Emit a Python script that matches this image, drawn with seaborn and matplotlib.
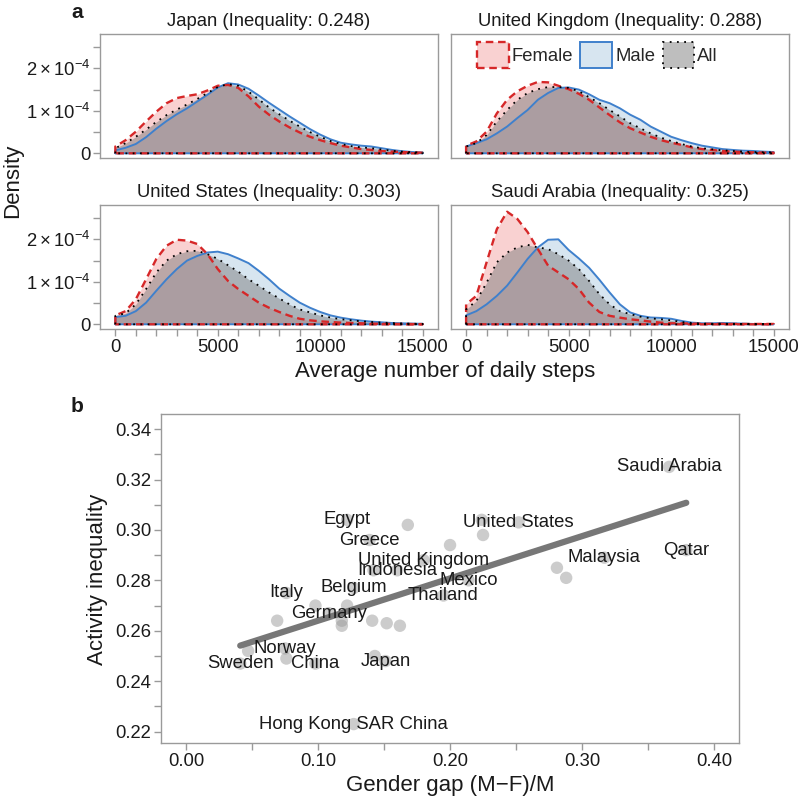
import numpy as np
import matplotlib
matplotlib.use("Agg")
import matplotlib.pyplot as plt
from matplotlib.patches import Patch
from matplotlib.colors import to_rgba
from matplotlib.ticker import FixedLocator, MultipleLocator, FormatStrFormatter
import seaborn as sns

sns.set_theme(style="ticks")
plt.rcParams['font.family'] = ['Liberation Sans', 'DejaVu Sans']
plt.rcParams['mathtext.fontset'] = 'custom'
plt.rcParams['mathtext.rm'] = 'Liberation Sans'
plt.rcParams['mathtext.it'] = 'Liberation Sans:italic'
plt.rcParams['mathtext.bf'] = 'Liberation Sans:bold'

# ---- panel a: density of daily steps (values in units of 1e-4) ----
DENSITY_UNIT = 1e-4
steps = list(range(0, 15001, 500))

japan_female = [0.16, 0.31, 0.51, 0.75, 0.98, 1.18, 1.30, 1.35, 1.39, 1.48, 1.59, 1.61, 1.54, 1.34, 1.10, 0.91,
                0.75, 0.61, 0.49, 0.39, 0.31, 0.24, 0.18, 0.14, 0.10, 0.08, 0.055, 0.04, 0.03, 0.02, 0.015]
japan_male = [0.07, 0.13, 0.22, 0.38, 0.58, 0.76, 0.92, 1.06, 1.22, 1.38, 1.55, 1.65, 1.62, 1.52, 1.36, 1.19,
              1.03, 0.87, 0.72, 0.57, 0.44, 0.33, 0.25, 0.21, 0.18, 0.16, 0.12, 0.08, 0.05, 0.03, 0.02]
japan_all = [0.12, 0.24, 0.39, 0.56, 0.74, 0.90, 1.03, 1.15, 1.28, 1.42, 1.56, 1.63, 1.59, 1.45, 1.27, 1.08,
             0.92, 0.77, 0.63, 0.50, 0.39, 0.29, 0.22, 0.17, 0.14, 0.12, 0.09, 0.06, 0.04, 0.025, 0.018]

uk_female = [0.18, 0.28, 0.51, 0.94, 1.26, 1.46, 1.59, 1.68, 1.67, 1.59, 1.51, 1.40, 1.26, 1.08, 0.90, 0.73,
             0.59, 0.49, 0.39, 0.31, 0.25, 0.20, 0.14, 0.10, 0.08, 0.055, 0.04, 0.03, 0.024, 0.016, 0.016]
uk_male = [0.16, 0.24, 0.33, 0.47, 0.63, 0.83, 1.02, 1.26, 1.42, 1.54, 1.55, 1.50, 1.39, 1.26, 1.18, 1.06,
           0.91, 0.79, 0.63, 0.51, 0.39, 0.31, 0.24, 0.18, 0.14, 0.10, 0.08, 0.063, 0.055, 0.04, 0.03]
uk_all = [0.16, 0.24, 0.43, 0.75, 1.02, 1.26, 1.42, 1.51, 1.56, 1.56, 1.54, 1.46, 1.32, 1.18, 1.02, 0.87,
          0.71, 0.59, 0.47, 0.37, 0.29, 0.22, 0.16, 0.12, 0.094, 0.07, 0.055, 0.04, 0.03, 0.024, 0.024]

us_female = [0.21, 0.31, 0.59, 1.06, 1.54, 1.85, 1.99, 1.97, 1.89, 1.65, 1.30, 1.02, 0.83, 0.67, 0.51, 0.39,
             0.29, 0.20, 0.13, 0.094, 0.07, 0.055, 0.04, 0.03, 0.024, 0.016, 0.012, 0.01, 0.008, 0.006, 0.005]
us_male = [0.17, 0.20, 0.31, 0.51, 0.79, 1.06, 1.30, 1.50, 1.61, 1.69, 1.71, 1.65, 1.55, 1.44, 1.26, 1.06,
           0.84, 0.67, 0.51, 0.39, 0.29, 0.21, 0.157, 0.118, 0.087, 0.063, 0.047, 0.031, 0.024, 0.016, 0.012]
us_all = [0.20, 0.26, 0.47, 0.83, 1.22, 1.50, 1.65, 1.72, 1.73, 1.65, 1.54, 1.39, 1.24, 1.06, 0.91, 0.75,
          0.61, 0.47, 0.35, 0.28, 0.21, 0.16, 0.12, 0.094, 0.07, 0.055, 0.04, 0.03, 0.02, 0.014, 0.01]

saudi_female = [0.47, 0.67, 1.46, 2.24, 2.65, 2.48, 2.17, 1.77, 1.38, 1.22, 1.06, 0.83, 0.51, 0.29, 0.20, 0.157,
                0.118, 0.094, 0.063, 0.039, 0.024, 0.024, 0.016, 0.012, 0.01, 0.01, 0.008, 0.008, 0.008, 0.008, 0.008]
saudi_male = [0.21, 0.31, 0.47, 0.67, 0.91, 1.22, 1.54, 1.81, 1.99, 2.0, 1.75, 1.55, 1.33, 1.05, 0.75, 0.47,
              0.28, 0.20, 0.16, 0.15, 0.13, 0.08, 0.04, 0.024, 0.024, 0.031, 0.024, 0.016, 0.008, 0.005, 0.004]
saudi_all = [0.35, 0.55, 0.98, 1.46, 1.69, 1.81, 1.87, 1.81, 1.77, 1.65, 1.50, 1.30, 1.02, 0.71, 0.47, 0.31,
             0.24, 0.18, 0.14, 0.118, 0.094, 0.055, 0.031, 0.016, 0.012, 0.014, 0.012, 0.008, 0.006, 0.004, 0.003]

panel_titles = ["Japan (Inequality: 0.248)", "United Kingdom (Inequality: 0.288)",
                "United States (Inequality: 0.303)", "Saudi Arabia (Inequality: 0.325)"]
x_ticks_a = [0, 5000, 10000, 15000]
y_ticks_a = [0, 1e-4, 2e-4]
y_ticklabels_a = ["0", r"$1\times10^{-4}$", r"$2\times10^{-4}$"]

# ---- panel b: inequality vs gender gap ----
countries = ["Saudi Arabia", "Qatar", "Malaysia", "United States", "Egypt", "Greece", "United Kingdom",
             "Indonesia", "Mexico", "Thailand", "Belgium", "Italy", "Germany", "Norway", "Sweden", "China",
             "Japan", "Hong Kong SAR China",
             "", "", "", "", "", "", "", "", "", "", "", "", "", "", "", "", "", ""]
gender_gap = [0.366, 0.379, 0.317, 0.252, 0.122, 0.139, 0.180, 0.160, 0.214, 0.195, 0.127, 0.076, 0.108,
              0.075, 0.041, 0.098, 0.151, 0.127,
              0.168, 0.200, 0.224, 0.225, 0.281, 0.288, 0.069, 0.098, 0.122, 0.118, 0.118, 0.141, 0.152,
              0.162, 0.142, 0.047, 0.076, 0.143]
inequality = [0.325, 0.292, 0.289, 0.303, 0.304, 0.296, 0.288, 0.284, 0.280, 0.274, 0.277, 0.275, 0.267,
              0.253, 0.247, 0.247, 0.248, 0.223,
              0.302, 0.294, 0.304, 0.298, 0.285, 0.281, 0.264, 0.270, 0.270, 0.264, 0.262, 0.264, 0.263,
              0.262, 0.284, 0.252, 0.249, 0.250]

FILL = {'Female': to_rgba('#E41A1C', 0.2), 'Male': to_rgba('#377EB8', 0.2), 'All': to_rgba('#7F7F7F', 0.5)}
LINE = {'Female': dict(color='#D62728', lw=1.7, ls=(0, (3.2, 2))),
        'Male': dict(color='#3F80CC', lw=1.4, ls='-'),
        'All': dict(color='black', lw=1.3, ls=(0, (1, 3)))}
SPINE = '#9a9a9a'
TEXT = '#1a1a1a'
FS = 13.3


def style_axes(ax):
    for s in ax.spines.values():
        s.set_visible(True)
        s.set_color(SPINE)
        s.set_linewidth(1.0)
    ax.tick_params(which='both', direction='out', length=5, width=1, color=SPINE,
                   labelsize=FS, labelcolor=TEXT, pad=2)


def draw_density(ax, female, male, everyone):
    for key, vals in [('Male', male), ('Female', female), ('All', everyone)]:
        y = np.array(vals) * DENSITY_UNIT
        ax.fill_between(steps, y, 0, color=FILL[key], lw=0)
        xs = [0] + steps + [steps[-1], 0]
        ys = [0] + list(y) + [0, 0]
        ax.plot(xs, ys, **LINE[key])


fig = plt.figure(figsize=(8, 7.99), dpi=100)

positions = [[0.125, 0.802, 0.4225, 0.155], [0.5634, 0.802, 0.4229, 0.155],
             [0.125, 0.588, 0.4225, 0.155], [0.5634, 0.588, 0.4229, 0.155]]
curves = [(japan_female, japan_male, japan_all), (uk_female, uk_male, uk_all),
          (us_female, us_male, us_all), (saudi_female, saudi_male, saudi_all)]

for i, (pos, title, (f, m, a)) in enumerate(zip(positions, panel_titles, curves)):
    ax = fig.add_axes(pos)
    draw_density(ax, f, m, a)
    ax.set_xlim(-750, 15750)
    ax.set_ylim(-0.115e-4, 2.80e-4)
    style_axes(ax)
    ax.set_title(title, fontsize=FS, color=TEXT, pad=6)
    ax.xaxis.set_major_locator(FixedLocator(x_ticks_a))
    ax.xaxis.set_minor_locator(MultipleLocator(1000))
    ax.yaxis.set_major_locator(FixedLocator(y_ticks_a))
    ax.yaxis.set_minor_locator(MultipleLocator(0.5e-4))
    ax.set_yticklabels(y_ticklabels_a)
    ax.set_xticklabels([str(t) for t in x_ticks_a])
    if i < 2:
        ax.tick_params(which='both', bottom=False, labelbottom=False)
    if i % 2 == 1:
        ax.tick_params(which='both', left=False, labelleft=False)
    if i == 1:
        handles = [Patch(facecolor=FILL[k], edgecolor=LINE[k]['color'], linestyle=LINE[k]['ls'],
                         linewidth=LINE[k]['lw']) for k in ['Female', 'Male', 'All']]
        ax.legend(handles, ['Female', 'Male', 'All'], ncol=3, loc='upper left',
                  bbox_to_anchor=(0.077, 0.935), frameon=False, fontsize=FS,
                  handlelength=1.73, handleheight=1.75, handletextpad=0.15,
                  columnspacing=0.4, borderpad=0, borderaxespad=0)

fig.text(0.0155, 1 - 181 / 799, "Density", rotation=90, fontsize=16, ha='center', va='center', color=TEXT)
fig.text(445 / 800, 1 - 371 / 799, "Average number of daily steps", fontsize=16, ha='center', va='center',
         color=TEXT)
fig.text(77 / 800, 1 - 18 / 799, "a", fontsize=15, fontweight='bold', ha='center', va='baseline', color=TEXT)
fig.text(77 / 800, 1 - 412 / 799, "b", fontsize=15, fontweight='bold', ha='center', va='baseline', color=TEXT)

# ---- scatter ----
axb = fig.add_axes([0.2013, 0.0701, 0.7225, 0.4118])
gx = np.array(gender_gap)
iy = np.array(inequality)
sns.scatterplot(x=gx, y=iy, s=80, color='#9a9a9a', alpha=0.5, edgecolor='none', ax=axb, zorder=2)
sns.regplot(x=gx, y=iy, scatter=False, ci=None, color='#777777', line_kws={'lw': 4.5, 'zorder': 3}, ax=axb)
for name, x, y in zip(countries, gender_gap, inequality):
    if name:
        axb.text(x, y, name, ha='center', va='center', fontsize=FS, color=TEXT, zorder=4)
axb.set_xlim(-0.019, 0.419)
axb.set_ylim(0.2155, 0.346)
style_axes(axb)
axb.xaxis.set_major_locator(MultipleLocator(0.1))
axb.xaxis.set_minor_locator(MultipleLocator(0.05))
axb.yaxis.set_major_locator(MultipleLocator(0.02))
axb.yaxis.set_minor_locator(MultipleLocator(0.01))
axb.xaxis.set_major_formatter(FormatStrFormatter('%.2f'))
axb.yaxis.set_major_formatter(FormatStrFormatter('%.2f'))
axb.set_xlabel("")
axb.set_ylabel("")
fig.text(450 / 800, 1 - 786 / 799, "Gender gap (M\u2212F)/M", fontsize=16, ha='center', va='center', color=TEXT)
fig.text(97 / 800, 1 - 579 / 799, "Activity inequality", rotation=90, fontsize=16, ha='center', va='center',
         color=TEXT)

fig.savefig("out.png", dpi=100)
